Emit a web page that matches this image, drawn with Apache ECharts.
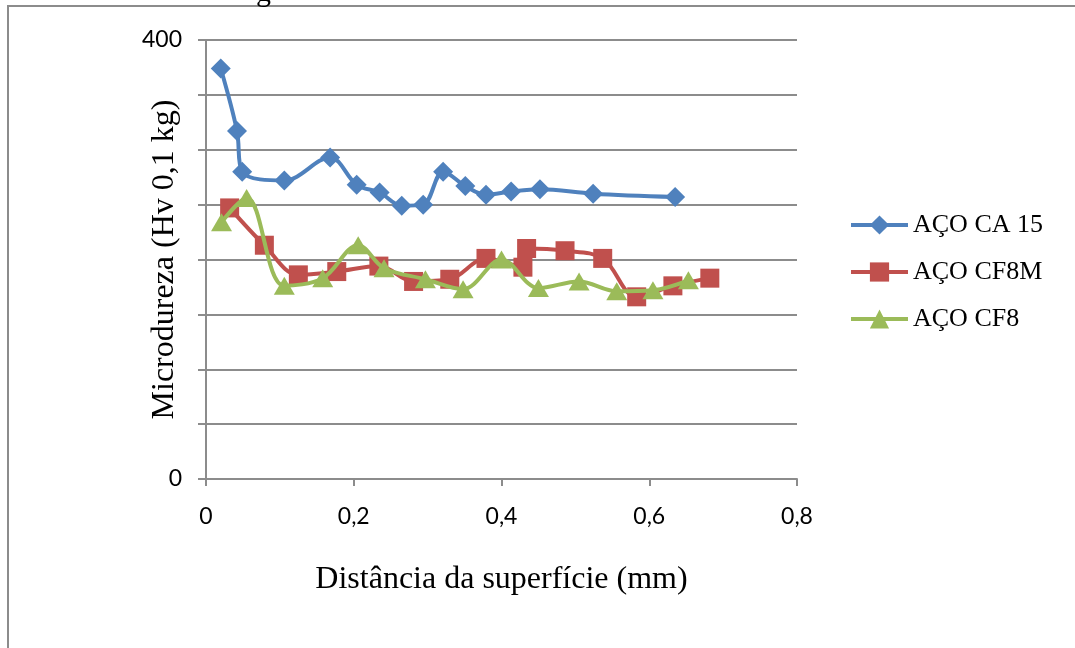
<!DOCTYPE html>
<html>
<head>
<meta charset="utf-8">
<script src="https://cdn.jsdelivr.net/npm/echarts@6/dist/echarts.min.js"></script>
<style>
html,body{margin:0;padding:0;background:#fff;}
#c{width:1075px;height:648px;}
</style>
</head>
<body>
<div id="c"></div>
<script>
// ---- data ----
const seriesNames = ['AÇO CA 15', 'AÇO CF8M', 'AÇO CF8'];
const ca15X = [0.020, 0.042, 0.049, 0.106, 0.168, 0.204, 0.235, 0.265, 0.294, 0.321, 0.351, 0.379, 0.413, 0.452, 0.524, 0.635];
const ca15Y = [374, 317, 280, 272, 293, 268, 261, 249, 250, 280, 267, 259, 262, 264, 260, 257];
const cf8mX = [0.032, 0.079, 0.125, 0.177, 0.234, 0.281, 0.330, 0.379, 0.429, 0.434, 0.486, 0.537, 0.583, 0.632, 0.682];
const cf8mY = [247, 213, 186, 189, 194, 180, 182, 201, 193, 210, 208, 201, 166, 176, 183];
const cf8X = [0.021, 0.055, 0.106, 0.158, 0.206, 0.241, 0.297, 0.348, 0.400, 0.450, 0.505, 0.556, 0.605, 0.653];
const cf8Y = [234, 256, 176, 183, 213, 192, 182, 173, 200, 174, 180, 171, 172, 181];
const yTickLabels = [0, 400];
const xTitle = 'Distância da superfície (mm)';
const yTitle = 'Microdureza (Hv 0,1 kg)';

function pairs(xs, ys) { return xs.map((x, i) => [x, ys[i]]); }

const colors = ['#4F81BD', '#C0504D', '#9BBB59'];
const serif = '"Liberation Serif", "Times New Roman", serif';
const sans = 'Lato, "Open Sans", sans-serif';

const chart = echarts.init(document.getElementById('c'), null, {renderer: 'canvas'});
chart.setOption({
  animation: false,
  backgroundColor: '#fff',
  color: colors,
  grid: {left: 206, right: 278, top: 40, bottom: 169, containLabel: false},
  graphic: [
    {type: 'rect', shape: {x: 8, y: 6, width: 1200, height: 800}, style: {fill: 'none', stroke: '#8c8c8c', lineWidth: 2}, silent: true},
    {type: 'text', left: 256, top: -22, style: {text: 'g', font: '30px ' + serif, fill: '#000'}, silent: true}
  ],
  legend: {
    orient: 'vertical',
    left: 849,
    top: 212,
    padding: 0,
    itemWidth: 57,
    itemHeight: 24,
    itemGap: 21,
    lineStyle: {width: 4},
    textStyle: {fontFamily: serif, fontSize: 26, color: '#000', lineHeight: 26},
    data: seriesNames
  },
  xAxis: {
    type: 'value',
    min: 0, max: 0.8, interval: 0.2,
    name: xTitle,
    nameLocation: 'middle',
    nameGap: 85,
    nameMoveOverlap: false,
    nameTextStyle: {fontFamily: serif, fontSize: 32, color: '#000'},
    axisLine: {show: true, onZero: false, lineStyle: {color: '#8c8c8c', width: 2}},
    axisTick: {show: true, length: 7, lineStyle: {color: '#8c8c8c', width: 2}},
    axisLabel: {
      margin: 26, fontFamily: sans, fontSize: 23, color: '#000',
      formatter: v => (v === 0 ? '0' : v.toFixed(1).replace('.', ','))
    },
    splitLine: {show: false}
  },
  yAxis: {
    type: 'value',
    min: 0, max: 400, interval: 50,
    name: yTitle,
    nameLocation: 'middle',
    nameGap: 25,
    nameMoveOverlap: false,
    nameTextStyle: {fontFamily: serif, fontSize: 32, color: '#000'},
    axisLine: {show: true, lineStyle: {color: '#8c8c8c', width: 2}},
    axisTick: {show: true, length: 8, lineStyle: {color: '#8c8c8c', width: 2}},
    axisLabel: {
      margin: 24, fontFamily: sans, fontSize: 23, color: '#000',
      formatter: v => (yTickLabels.indexOf(v) >= 0 ? String(v) : '')
    },
    splitLine: {show: true, lineStyle: {color: '#8c8c8c', width: 2}}
  },
  series: [
    {name: seriesNames[0], type: 'line', smooth: 0.35, data: pairs(ca15X, ca15Y),
     symbol: 'diamond', symbolSize: 20, lineStyle: {width: 4}, itemStyle: {color: colors[0]}, z: 3},
    {name: seriesNames[1], type: 'line', smooth: 0.35, data: pairs(cf8mX, cf8mY),
     symbol: 'rect', symbolSize: 19, lineStyle: {width: 4}, itemStyle: {color: colors[1]}, z: 4},
    {name: seriesNames[2], type: 'line', smooth: 0.35, data: pairs(cf8X, cf8Y),
     symbol: 'triangle', symbolSize: [21, 18], lineStyle: {width: 4}, itemStyle: {color: colors[2]}, z: 5}
  ]
});
</script>
</body>
</html>
